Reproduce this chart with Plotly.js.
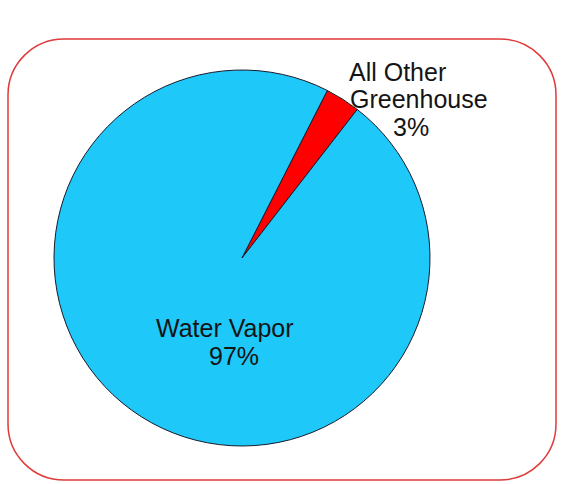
<!DOCTYPE html>
<html>
<head>
<meta charset="utf-8">
<script src="https://cdn.plot.ly/plotly-3.0.1.min.js"></script>
<style>
html,body{margin:0;padding:0;background:#fff;}
#chart{width:562px;height:484px;}
</style>
</head>
<body>
<div id="chart"></div>
<script>
const categories = ["All Other Greenhouse", "Water Vapor"];
const values = [3, 97];
const sliceColors = ["#ff0000", "#1ec8f9"];
const labelLines = [["All Other", "Greenhouse", "3%"], ["Water Vapor", "97%"]];

const W = 562, H = 484;
function px(x){ return x / W; }
function py(y){ return 1 - y / H; }

// rounded rectangle frame in pixel space -> paper coords
const L = 8, T = 39, R = 556, B = 480, rad = 56, k = 0.5523 * rad;
function P(x, y){ return px(x).toFixed(5) + "," + py(y).toFixed(5); }
const framePath =
  "M" + P(L + rad, T) +
  " L" + P(R - rad, T) +
  " C" + P(R - rad + k, T) + " " + P(R, T + rad - k) + " " + P(R, T + rad) +
  " L" + P(R, B - rad) +
  " C" + P(R, B - rad + k) + " " + P(R - rad + k, B) + " " + P(R - rad, B) +
  " L" + P(L + rad, B) +
  " C" + P(L + rad - k, B) + " " + P(L, B - rad + k) + " " + P(L, B - rad) +
  " L" + P(L, T + rad) +
  " C" + P(L, T + rad - k) + " " + P(L + rad - k, T) + " " + P(L + rad, T) + " Z";

const cx = 242, cy = 258, r = 188;

const trace = {
  type: "pie",
  labels: categories,
  values: values,
  sort: false,
  direction: "clockwise",
  rotation: 27,
  marker: { colors: sliceColors, line: { color: "#1a1a2a", width: 1 } },
  textinfo: "none",
  hoverinfo: "label+percent",
  domain: { x: [px(cx - r), px(cx + r)], y: [py(cy + r), py(cy - r)] },
  showlegend: false
};

const font = { family: "Liberation Sans, Arial, sans-serif", size: 25, color: "#141414" };

// label line centres (pixels)
const labelPos = [
  [[397, 72], [419, 99], [411, 127]],
  [[225, 328], [234, 356]]
];

const annotations = [];
labelLines.forEach(function(lines, i){
  lines.forEach(function(t, j){
    annotations.push({
      xref: "paper", yref: "paper",
      x: px(labelPos[i][j][0]), y: py(labelPos[i][j][1]),
      xanchor: "center", yanchor: "middle",
      text: t, showarrow: false, font: font
    });
  });
});

const layout = {
  width: W, height: H,
  margin: { l: 0, r: 0, t: 0, b: 0 },
  paper_bgcolor: "#ffffff",
  showlegend: false,
  shapes: [
    { type: "path", xref: "paper", yref: "paper", path: framePath,
      line: { color: "#e03a3a", width: 1.5 }, fillcolor: "rgba(0,0,0,0)", layer: "below" }
  ],
  annotations: annotations
};

Plotly.newPlot("chart", [trace], layout, { displayModeBar: false, staticPlot: true });
</script>
</body>
</html>
